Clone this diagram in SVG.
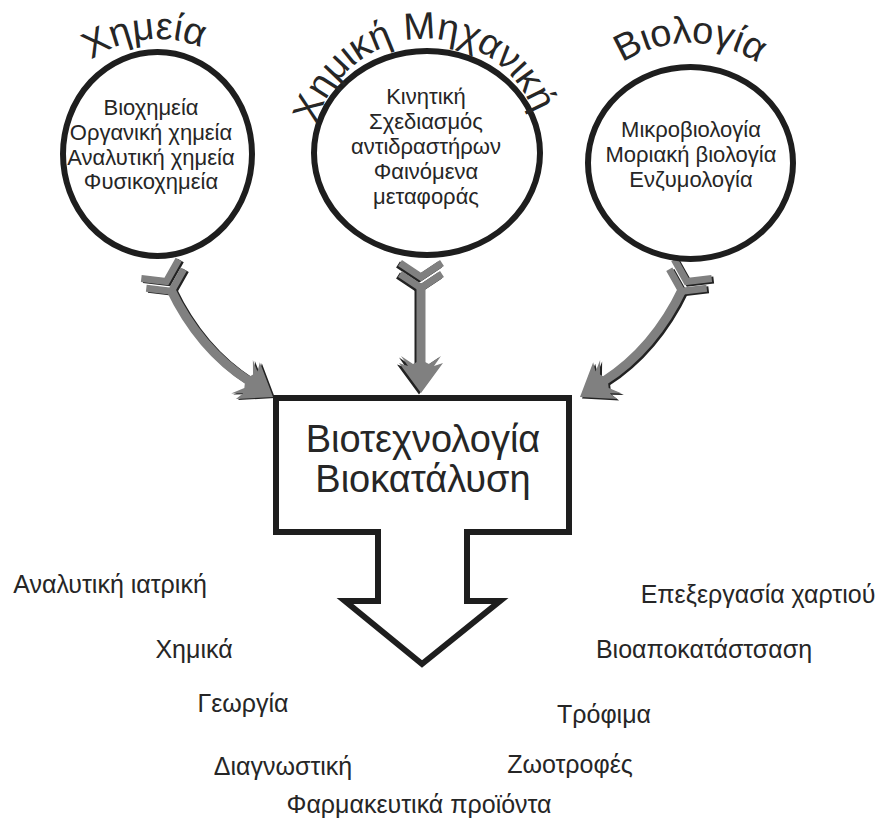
<svg xmlns="http://www.w3.org/2000/svg" xmlns:xlink="http://www.w3.org/1999/xlink" width="882" height="821" viewBox="0 0 882 821">
<style>
  text { font-family: "Liberation Sans", Arial, sans-serif; fill: #262626; }
  .ring { fill: #ffffff; stroke: #1e1e1e; stroke-width: 6; }
  .title { font-size: 38px; }
  .inner { font-size: 22px; text-anchor: middle; }
  .box { fill: #ffffff; stroke: #1e1e1e; stroke-width: 6; stroke-linejoin: miter; }
  .boxtext { font-size: 38px; text-anchor: middle; }
  .label { font-size: 25px; text-anchor: middle; }
  .chev { fill: none; stroke: currentColor; stroke-width: 7; stroke-linejoin: miter; }
  .shaft { fill: none; stroke: currentColor; stroke-width: 9; }
  .headp { fill: currentColor; stroke: none; }
</style>
<defs>
  <path id="arc1" d="M57.9,211.5 A115,115 0 1 1 257.1,211.5"/>
  <path id="arc2" d="M328.3,210 A114,114 0 1 1 525.7,210"/>
  <path id="arc3" d="M581.75,230.5 A125,125 0 1 1 798.25,230.5"/>
  <g id="tail">
    <path class="chev" d="M-21,0 L0,14 L21,0"/>
    <path class="chev" d="M-21,11 L0,25 L21,11"/>
  </g>
  <polygon id="head" class="headp" points="0,0 -22,-30 -13,-27 -20,-37 -8,-29 -4,-31 4,-31 8,-29 20,-37 13,-27 22,-30"/>
  <g id="a1">
    <use xlink:href="#tail" href="#tail" transform="translate(160,269) rotate(-27)"/>
    <path class="shaft" d="M170,288 Q199,349 249,381"/>
    <use xlink:href="#head" href="#head" transform="translate(273,397) rotate(-57)"/>
  </g>
  <g id="a2">
    <use xlink:href="#tail" href="#tail" transform="translate(421,263)"/>
    <path class="shaft" d="M421,283 L421,364"/>
    <use xlink:href="#head" href="#head" transform="translate(421,393)"/>
  </g>
</defs>

<g id="connectors">
  <use xlink:href="#a1" href="#a1" color="#222222" transform="translate(2,1)"/>
  <use xlink:href="#a1" href="#a1" color="#808080"/>
  <use xlink:href="#a2" href="#a2" color="#222222" transform="translate(-2,1.5)"/>
  <use xlink:href="#a2" href="#a2" color="#808080"/>
  <g transform="translate(2,1.5)">
    <use xlink:href="#a1" href="#a1" color="#222222" transform="translate(853,0) scale(-1,1)"/>
  </g>
  <use xlink:href="#a1" href="#a1" color="#808080" transform="translate(853,0) scale(-1,1)"/>
</g>

<g id="node-chemistry">
  <ellipse class="ring" cx="157.5" cy="154" rx="94.5" ry="102"/>
  <text class="title" text-anchor="middle"><textPath xlink:href="#arc1" href="#arc1" startOffset="228">Χημεία</textPath></text>
  <text class="inner" x="151" y="115">Βιοχημεία</text>
  <text class="inner" x="151" y="140">Οργανική χημεία</text>
  <text class="inner" x="151" y="165">Αναλυτική χημεία</text>
  <text class="inner" x="151" y="189">Φυσικοχημεία</text>
</g>

<g id="node-chemeng">
  <ellipse class="ring" cx="427" cy="153" rx="113" ry="102"/>
  <text class="title" text-anchor="middle"><textPath xlink:href="#arc2" href="#arc2" startOffset="232.7">Χημική Μηχανική</textPath></text>
  <text class="inner" x="426" y="104">Κινητική</text>
  <text class="inner" x="426" y="129">Σχεδιασμός</text>
  <text class="inner" x="426" y="154">αντιδραστήρων</text>
  <text class="inner" x="426" y="179">Φαινόμενα</text>
  <text class="inner" x="426" y="204">μεταφοράς</text>
</g>

<g id="node-biology">
  <ellipse class="ring" cx="690.5" cy="163" rx="102.5" ry="96"/>
  <text class="title" text-anchor="middle"><textPath xlink:href="#arc3" href="#arc3" startOffset="261.8">Βιολογία</textPath></text>
  <text class="inner" x="691" y="137">Μικροβιολογία</text>
  <text class="inner" x="691" y="162">Μοριακή βιολογία</text>
  <text class="inner" x="691" y="187">Ενζυμολογία</text>
</g>

<g id="node-biotech">
  <path class="box" d="M276,398 L569,398 L569,532 L467,532 L467,601 L500,601 L422,664 L345,601 L378,601 L378,532 L276,532 Z"/>
  <text class="boxtext" x="423" y="452">Βιοτεχνολογία</text>
  <text class="boxtext" x="423" y="492">Βιοκατάλυση</text>
</g>

<g id="applications">
  <text class="label" x="110" y="593">Αναλυτική ιατρική</text>
  <text class="label" x="194" y="658">Χημικά</text>
  <text class="label" x="243" y="712">Γεωργία</text>
  <text class="label" x="283" y="775">Διαγνωστική</text>
  <text class="label" x="419" y="813">Φαρμακευτικά προϊόντα</text>
  <text class="label" x="758" y="603">Επεξεργασία χαρτιού</text>
  <text class="label" x="704" y="658">Βιοαποκατάστσαση</text>
  <text class="label" x="604" y="723">Τρόφιμα</text>
  <text class="label" x="570" y="773">Ζωοτροφές</text>
</g>
</svg>
